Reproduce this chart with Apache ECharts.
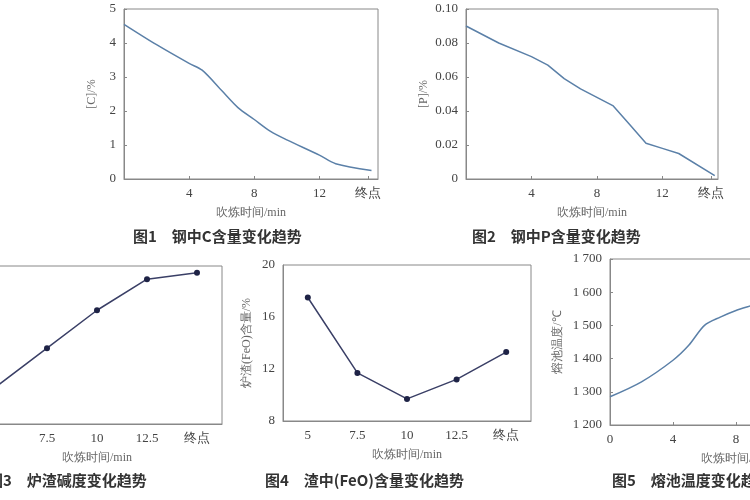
<!DOCTYPE html>
<html><head><meta charset="utf-8">
<script src="https://cdn.jsdelivr.net/npm/echarts@6/dist/echarts.min.js"></script>
<style>html,body{margin:0;background:#fff}#c{width:750px;height:500px}</style>
</head><body><div id="c"></div>
<script>
// 图1 钢中C
var cTime = [0, 2, 4, 4.8, 6, 7, 8, 9, 10, 12, 13, 15.2];
var cVal = [4.55, 3.95, 3.4, 3.2, 2.6, 2.1, 1.75, 1.4, 1.15, 0.7, 0.45, 0.25];
// 图2 钢中P
var pTime = [0, 2, 4, 5, 6, 7, 8, 9, 10, 11, 12, 13, 15.2];
var pVal = [0.09, 0.08, 0.072, 0.067, 0.059, 0.053, 0.048, 0.043, 0.032, 0.021, 0.018, 0.015, 0.002];
// 图3 炉渣碱度 / 图4 FeO
var slagCats = ['5', '7.5', '10', '12.5', '终点'];
var basicity = [1.72, 2.44, 3.16, 3.75, 3.87];
var feo = [17.5, 11.7, 9.7, 11.2, 13.3];
// 图5 熔池温度
var tTime = [0, 2, 4, 5, 6, 7, 8, 9, 10];
var tVal = [1285, 1330, 1395, 1440, 1500, 1525, 1545, 1560, 1575];

var myChart = echarts.init(document.getElementById('c'));
var serif = 'Liberation Serif';
var lab = {color: '#444', fontFamily: serif, fontSize: 13};
var line = {show: true, lineStyle: {color: '#888'}};
var tick = {inside: true, length: 3, lineStyle: {color: '#888'}};
function pairs(x, y) { return x.map(function (v, i) { return [v, y[i]]; }); }
function fmtEnd(v) { return v === 15 ? '终点' : v; }
function thou(v) { return String(v).replace(/(\d)(\d{3})$/, '$1 $2'); }
var nameStyle = {color: '#666', fontFamily: serif, fontSize: 12};
function g(l, t, w, h) { return {left: l, top: t, width: w, height: h, show: true, borderColor: '#888', outerBoundsMode: 'none', containLabel: false}; }

option = {
  animation: false,
  grid: [g(124, 9, 254, 170), g(466, 9, 252, 170), g(-28, 266, 250, 158), g(283, 265, 248, 156), g(610, 259, 252, 166)],
  xAxis: [
    {gridIndex: 0, type: 'value', min: 0, max: 15.6, axisLine: line, axisTick: Object.assign({customValues: [4, 8, 12, 15]}, tick),
      splitLine: {show: false}, axisLabel: Object.assign({customValues: [4, 8, 12, 15], formatter: fmtEnd}, lab),
      name: '吹炼时间/min', nameLocation: 'middle', nameGap: 28, nameTextStyle: nameStyle},
    {gridIndex: 1, type: 'value', min: 0, max: 15.4, axisLine: line, axisTick: Object.assign({customValues: [4, 8, 12, 15]}, tick),
      splitLine: {show: false}, axisLabel: Object.assign({customValues: [4, 8, 12, 15], formatter: fmtEnd}, lab),
      name: '吹炼时间/min', nameLocation: 'middle', nameGap: 28, nameTextStyle: nameStyle},
    {gridIndex: 2, type: 'category', data: slagCats, axisLine: line, axisTick: Object.assign({alignWithLabel: true}, tick),
      axisLabel: lab, name: '吹炼时间/min', nameLocation: 'middle', nameGap: 28, nameTextStyle: nameStyle},
    {gridIndex: 3, type: 'category', data: slagCats, axisLine: line, axisTick: Object.assign({alignWithLabel: true}, tick),
      axisLabel: lab, name: '吹炼时间/min', nameLocation: 'middle', nameGap: 28, nameTextStyle: nameStyle},
    {gridIndex: 4, type: 'value', min: 0, max: 16, interval: 4, axisLine: line, axisTick: tick,
      splitLine: {show: false}, axisLabel: lab,
      name: '吹炼时间/min', nameLocation: 'middle', nameGap: 28, nameTextStyle: nameStyle}
  ],
  yAxis: [
    {gridIndex: 0, type: 'value', min: 0, max: 5, interval: 1, axisLine: line, axisTick: tick, splitLine: {show: false},
      axisLabel: lab, name: '[C]/%', nameLocation: 'middle', nameGap: 26, nameTextStyle: nameStyle},
    {gridIndex: 1, type: 'value', min: 0, max: 0.1, interval: 0.02, axisLine: line, axisTick: tick, splitLine: {show: false},
      axisLabel: Object.assign({formatter: function (v) { return v === 0 ? '0' : v.toFixed(2); }}, lab),
      name: '[P]/%', nameLocation: 'middle', nameGap: 36, nameTextStyle: nameStyle},
    {gridIndex: 2, type: 'value', min: 1, max: 4, interval: 1, axisLine: line, axisTick: tick, splitLine: {show: false},
      axisLabel: lab},
    {gridIndex: 3, type: 'value', min: 8, max: 20, interval: 4, axisLine: line, axisTick: tick, splitLine: {show: false},
      axisLabel: lab, name: '炉渣(FeO)含量/%', nameLocation: 'middle', nameGap: 30, nameTextStyle: nameStyle},
    {gridIndex: 4, type: 'value', min: 1200, max: 1700, interval: 100, axisLine: line, axisTick: tick, splitLine: {show: false},
      axisLabel: Object.assign({formatter: thou}, lab), name: '熔池温度/℃', nameLocation: 'middle', nameGap: 46, nameTextStyle: nameStyle}
  ],
  series: [
    {type: 'line', xAxisIndex: 0, yAxisIndex: 0, data: pairs(cTime, cVal), smooth: 0.3, showSymbol: false,
      lineStyle: {color: '#5b80a8', width: 1.5}},
    {type: 'line', xAxisIndex: 1, yAxisIndex: 1, data: pairs(pTime, pVal), showSymbol: false,
      lineStyle: {color: '#5b80a8', width: 1.5}},
    {type: 'line', xAxisIndex: 2, yAxisIndex: 2, data: basicity, symbol: 'circle', symbolSize: 6,
      itemStyle: {color: '#1e2346'}, lineStyle: {color: '#3a3f66', width: 1.5}},
    {type: 'line', xAxisIndex: 3, yAxisIndex: 3, data: feo, symbol: 'circle', symbolSize: 6,
      itemStyle: {color: '#1e2346'}, lineStyle: {color: '#3a3f66', width: 1.5}},
    {type: 'line', xAxisIndex: 4, yAxisIndex: 4, data: pairs(tTime, tVal), smooth: 0.3, showSymbol: false,
      lineStyle: {color: '#5b80a8', width: 1.5}}
  ],
  graphic: [
    {type: 'text', left: 133, top: 229, style: {text: '图1　钢中C含量变化趋势', font: 'bold 15px "Noto Sans CJK SC"', fill: '#333'}},
    {type: 'text', left: 472, top: 229, style: {text: '图2　钢中P含量变化趋势', font: 'bold 15px "Noto Sans CJK SC"', fill: '#333'}},
    {type: 'text', left: -12, top: 473, style: {text: '图3　炉渣碱度变化趋势', font: 'bold 15px "Noto Sans CJK SC"', fill: '#333'}},
    {type: 'text', left: 265, top: 473, style: {text: '图4　渣中(FeO)含量变化趋势', font: 'bold 15px "Noto Sans CJK SC"', fill: '#333'}},
    {type: 'text', left: 612, top: 473, style: {text: '图5　熔池温度变化趋势', font: 'bold 15px "Noto Sans CJK SC"', fill: '#333'}}
  ]
};

myChart.setOption(option);
</script></body></html>
